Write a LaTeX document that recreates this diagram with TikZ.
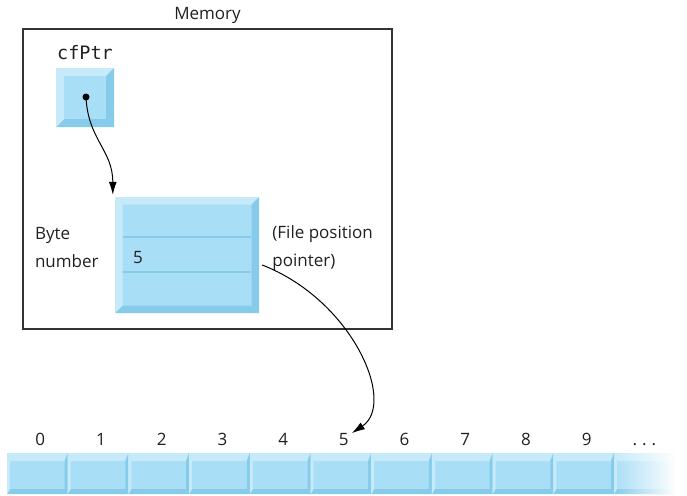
\documentclass[tikz,border=0pt]{standalone}
\usepackage{fontspec}
\setmainfont{Open Sans}
\newfontfamily\codefont{DejaVu Sans Mono}
\usetikzlibrary{positioning,arrows.meta,fadings}

\definecolor{cellface}{HTML}{A9DEF7}
\definecolor{celllight}{HTML}{C6EAF9}
\definecolor{celldark}{HTML}{86CBEA}
\definecolor{inkgray}{HTML}{231F20}

\tikzset{
  bevel/.style n args={4}{fill=cellface, draw=none, inner sep=0pt, path picture={
    \coordinate (pnw) at (path picture bounding box.north west);
    \coordinate (pne) at (path picture bounding box.north east);
    \coordinate (psw) at (path picture bounding box.south west);
    \coordinate (pse) at (path picture bounding box.south east);
    \fill[celllight] (pnw) -- (pne) -- ([shift={(-#2,-#1)}]pne) -- ([shift={(#4,-#1)}]pnw) -- cycle;
    \fill[celldark] (pne) -- (pse) -- ([shift={(-#2,#3)}]pse) -- ([shift={(-#2,-#1)}]pne) -- cycle;
    \fill[celldark] (psw) -- (pse) -- ([shift={(-#2,#3)}]pse) -- ([shift={(#4,#3)}]psw) -- cycle;
    \fill[celllight] (pnw) -- (psw) -- ([shift={(#4,#3)}]psw) -- ([shift={(#4,-#1)}]pnw) -- cycle;
  }},
  cellbox/.style={bevel={8pt}{3pt}{5pt}{3pt}, minimum width=60.7pt, minimum height=41pt},
  txt/.style={text=inkgray, inner sep=0pt, font=\fontsize{17}{28}\selectfont},
  ptr/.style={-{Latex[length=13pt,width=8pt]}, line width=1pt, black},
}

\begin{document}
\begin{tikzpicture}[x=1pt, y=-1pt]
\useasboundingbox (0,0) rectangle (687,495);

% memory area
\node[draw=black!80, line width=1.1pt, minimum width=369pt, minimum height=300pt, inner sep=0pt] (memory) at (207.5,179) {};
\node[txt, above=5pt of memory] (memtitle) {Memory};

% the pointer variable
\node[bevel={8pt}{8pt}{8pt}{8pt}, minimum width=58pt, minimum height=59pt] (cfptr) at (85,97.5) {};
\node[txt, above=8pt of cfptr, font=\codefont\fontsize{18.5}{20}\selectfont] (cfname) {cfPtr};
\node[circle, fill=black, inner sep=0pt, minimum size=7pt] (dot) at (86,97) {};

% the FILE structure
\node[bevel={7.5pt}{7.5pt}{7.5pt}{7.5pt}, minimum width=144pt, minimum height=116pt] (byte) at (187,255) {};
\draw[celldark, line width=1.5pt] ([shift={(8pt,-40pt)}]byte.north west) -- ([shift={(-8pt,-40pt)}]byte.north east);
\draw[celldark, line width=1.5pt] ([shift={(8pt,-75pt)}]byte.north west) -- ([shift={(-8pt,-75pt)}]byte.north east);
\node[txt, right=18pt of byte.west, yshift=-3pt] (pos) {5};
\node[txt, align=left, left=16pt of byte, yshift=7pt] (bytelbl) {Byte\\number};
\node[txt, align=left, right=13pt of byte, yshift=7pt] (poslbl) {(File position\\pointer)};

% the file on disk
\foreach \i in {0,...,10}
  \node[cellbox] (c\i) at ({37.35+60.7*\i},473.5) {};
\foreach \i in {0,...,9}
  \node[txt, above=7pt of c\i, xshift=3pt] (n\i) {\i};
\node[txt, above=7pt of c10] (ndots) {.\hspace{5pt}.\hspace{5pt}.};
\fill[white, path fading=west] (c10.north west) rectangle ([xshift=1pt]c10.south east);

% pointers
\draw[ptr] (dot.center) .. controls +(2,43) and +(0,-45) .. ([shift={(-2pt,2pt)}]byte.north west);
\draw[ptr] ([shift={(3pt,-10pt)}]byte.east) .. controls +(90,35) and +(45,-30) .. ([xshift=3pt]n5.north east);
\end{tikzpicture}
\end{document}
